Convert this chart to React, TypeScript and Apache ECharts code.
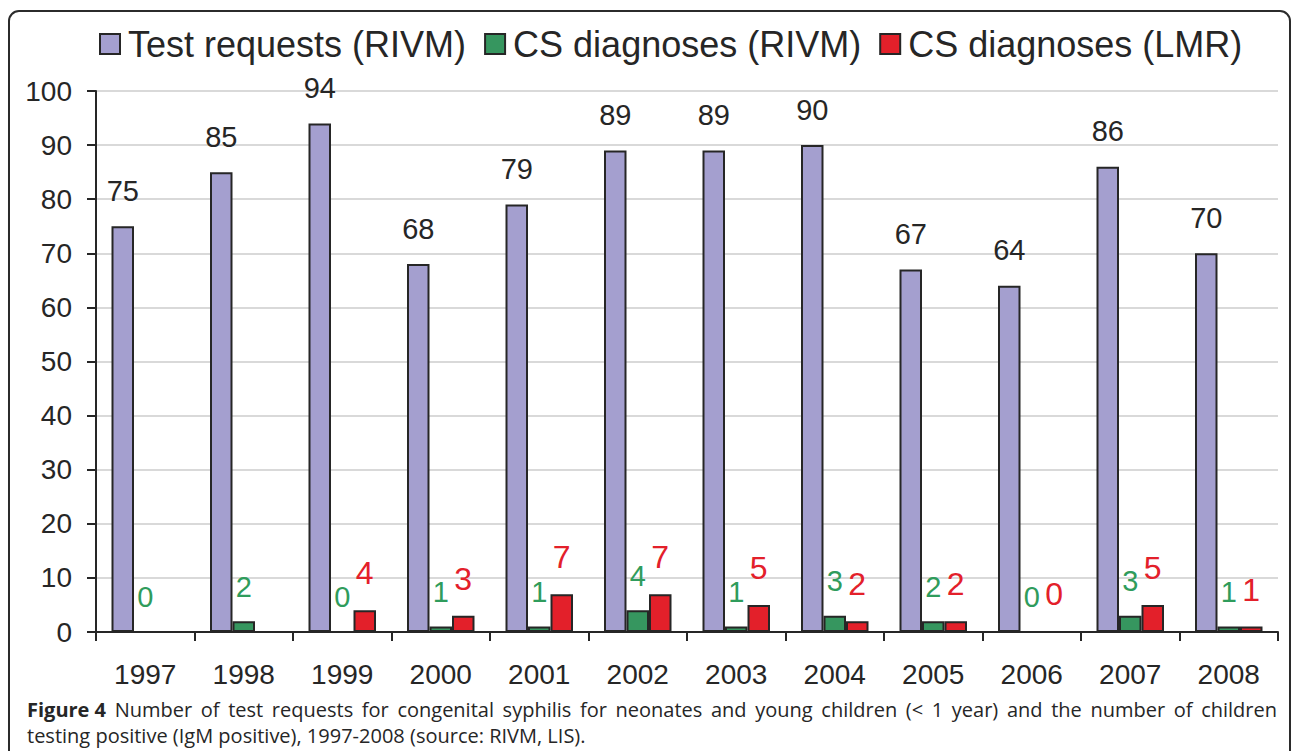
import React, { useEffect, useRef } from "react";
import * as echarts from "echarts";

const years = ["1997", "1998", "1999", "2000", "2001", "2002", "2003", "2004", "2005", "2006", "2007", "2008"];
const testRequests = [75, 85, 94, 68, 79, 89, 89, 90, 67, 64, 86, 70];
const csRIVM = [0, 2, 0, 1, 1, 4, 1, 3, 2, 0, 3, 1];
const csLMR: (number | null)[] = [null, null, 4, 3, 7, 7, 5, 2, 2, 0, 5, 1];
const yTicks = { min: 0, max: 100, interval: 10 };

const captionBold = "Figure 4";
const captionLine1 = "Number of test requests for congenital syphilis for neonates and young children (< 1 year) and the number of children";
const captionLine2 = "testing positive (IgM positive), 1997-2008 (source: RIVM, LIS).";

const CAP_FONT = "'Open Sans', sans-serif";
const CAP_SIZE = 20;

function buildJustified(target: number) {
  const words = captionLine1.split(" ");
  const canvas = document.createElement("canvas");
  const ctx = canvas.getContext("2d")!;
  ctx.font = `bold ${CAP_SIZE}px ${CAP_FONT}`;
  let total = ctx.measureText(captionBold).width;
  ctx.font = `${CAP_SIZE}px ${CAP_FONT}`;
  for (const w of words) total += ctx.measureText(w).width;
  const gaps = words.length;
  const gap = Math.max(3, (target - total) / gaps);
  const escaped = words.map((w) => "{n|" + w + "}");
  return { text: "{b|" + captionBold + "}{s| }" + escaped.join("{s| }"), gap };
}

export default function App() {
  const ref = useRef<HTMLDivElement>(null);
  useEffect(() => {
    if (!ref.current) return;
    const chart = echarts.init(ref.current, undefined, { renderer: "svg" });
    const font = "'Liberation Sans', Arial, sans-serif";
    const border = { borderColor: "#262626", borderWidth: 2 };
    const just = buildJustified(1250);
    chart.setOption({
      animation: false,
      backgroundColor: "#ffffff",
      textStyle: { fontFamily: font },
      legend: {
        top: 21,
        left: 94,
        itemWidth: 20,
        itemHeight: 20,
        itemGap: 18,
        icon: "rect",
        textStyle: { fontSize: 36, color: "#262626", fontFamily: font, padding: [0, 0, 0, 3] },
        data: ["Test requests (RIVM)", "CS diagnoses (RIVM)", "CS diagnoses (LMR)"],
      },
      grid: { left: 96, right: 14, top: 91, bottom: 119, containLabel: false },
      xAxis: {
        type: "category",
        data: years,
        axisLine: { lineStyle: { color: "#262626", width: 2 } },
        axisTick: { show: true, length: 9, lineStyle: { color: "#262626", width: 2 } },
        axisLabel: { fontSize: 28, color: "#262626", margin: 28, fontFamily: font },
      },
      yAxis: {
        type: "value",
        min: yTicks.min,
        max: yTicks.max,
        interval: yTicks.interval,
        axisLine: { show: true, lineStyle: { color: "#262626", width: 2 } },
        axisTick: { show: true, length: 9, lineStyle: { color: "#262626", width: 2 } },
        axisLabel: { fontSize: 28, color: "#262626", margin: 24, fontFamily: font },
        splitLine: { lineStyle: { color: "#d9d9d9", width: 2 } },
      },
      series: [
        {
          name: "Test requests (RIVM)",
          type: "bar",
          data: testRequests,
          barWidth: 22.5,
          barGap: "0%",
          itemStyle: { color: "#a49fcf", ...border },
          label: { show: true, position: "top", distance: 21, fontSize: 29, color: "#262626", fontFamily: font },
        },
        {
          name: "CS diagnoses (RIVM)",
          type: "bar",
          data: csRIVM,
          barWidth: 22.5,
          barGap: "0%",
          itemStyle: { color: "#36965f", ...border },
          label: { show: true, position: "top", distance: 20, fontSize: 29, color: "#2f9c5c", fontFamily: font },
        },
        {
          name: "CS diagnoses (LMR)",
          type: "bar",
          data: csLMR,
          barWidth: 22.5,
          barGap: "0%",
          itemStyle: { color: "#e3202a", ...border },
          label: { show: true, position: "top", distance: 21, fontSize: 32, color: "#e3202a", fontFamily: font },
        },
      ],
      graphic: [
        {
          type: "rect",
          shape: { x: 9, y: 11, width: 1281, height: 780, r: 10 },
          style: { fill: "none", stroke: "#2b2b2b", lineWidth: 2 },
          silent: true,
        },
        {
          type: "text",
          left: 27,
          top: 699,
          style: {
            text: just.text,
            font: `${CAP_SIZE}px ${CAP_FONT}`,
            fill: "#262626",
            rich: {
              b: { fontWeight: "bold", fontSize: CAP_SIZE, fontFamily: CAP_FONT, fill: "#262626" },
              n: { fontSize: CAP_SIZE, fontFamily: CAP_FONT, fill: "#262626" },
              s: { width: just.gap, fontSize: CAP_SIZE, fontFamily: CAP_FONT },
            },
          },
        },
        {
          type: "text",
          left: 27,
          top: 725,
          style: {
            text: captionLine2,
            font: `${CAP_SIZE}px ${CAP_FONT}`,
            fill: "#262626",
          },
        },
      ],
    });
    return () => chart.dispose();
  }, []);
  return <div ref={ref} style={{ position: "absolute", left: 0, top: 0, width: 1292, height: 751 }} />;
}
